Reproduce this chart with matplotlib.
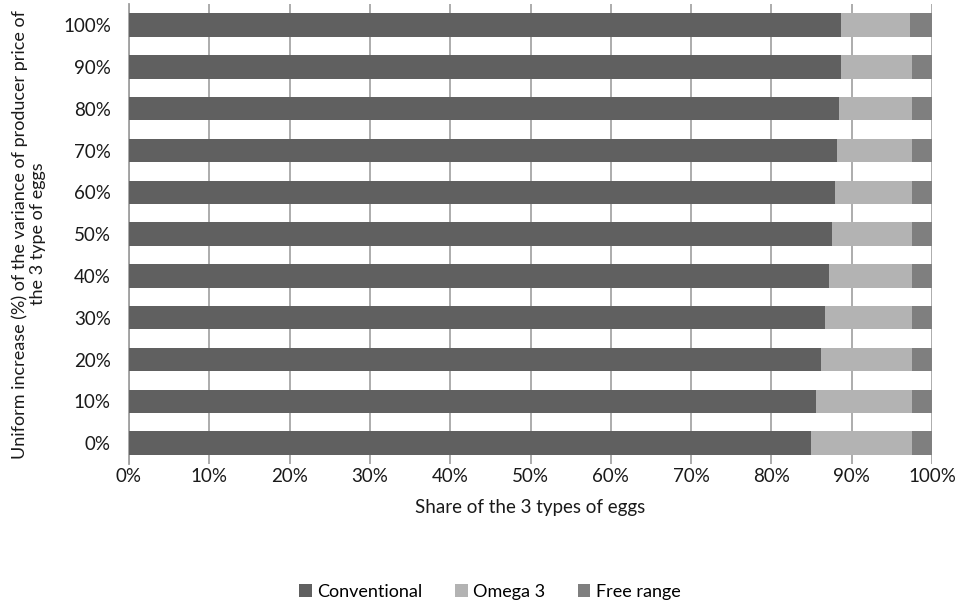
"""Share of the 3 types of eggs vs uniform increase of producer price variance."""

import matplotlib.pyplot as plt
import numpy as np

plt.rcParams["font.family"] = ["Lato", "DejaVu Sans"]

ROW_LABELS = ["0%", "10%", "20%", "30%", "40%", "50%",
              "60%", "70%", "80%", "90%", "100%"]
CONVENTIONAL = [84.9, 85.6, 86.2, 86.7, 87.2, 87.5, 87.9, 88.2, 88.4, 88.7, 88.7]
OMEGA_3 = [12.6, 11.9, 11.3, 10.8, 10.3, 10.0, 9.6, 9.3, 9.1, 8.8, 8.6]
FREE_RANGE = [2.5, 2.5, 2.5, 2.5, 2.5, 2.5, 2.5, 2.5, 2.5, 2.5, 2.7]

SERIES = [("Conventional", CONVENTIONAL, "#606060"),
          ("Omega 3", OMEGA_3, "#b3b3b3"),
          ("Free range", FREE_RANGE, "#7f7f7f")]


def main() -> None:
    fig = plt.figure(figsize=(9.55, 6.05), dpi=100)
    ax = fig.add_axes([0.135, 0.233, 0.841, 0.760])

    y = np.arange(len(ROW_LABELS))
    totals = np.array(CONVENTIONAL) + np.array(OMEGA_3) + np.array(FREE_RANGE)
    left = np.zeros(len(ROW_LABELS))
    for name, values, color in SERIES:
        share = np.array(values) / totals
        ax.barh(y, share, left=left, height=0.56, color=color, label=name,
                zorder=3)
        left += share

    ax.set_xlim(0, 1)
    ax.set_ylim(-0.5, len(ROW_LABELS) - 0.5)
    ax.set_xticks(np.linspace(0, 1, 11))
    ax.set_xticklabels([f"{int(round(v * 100))}%" for v in np.linspace(0, 1, 11)])
    ax.set_yticks(y)
    ax.set_yticklabels(ROW_LABELS)
    ax.tick_params(axis="both", length=0, labelsize=13.5, colors="#1a1a1a")
    ax.tick_params(axis="x", pad=3)
    ax.tick_params(axis="y", pad=13)

    ax.grid(axis="x", color="#a6a6a6", linewidth=1.3, zorder=0)
    for side in ("top", "right", "bottom"):
        ax.spines[side].set_visible(False)
    ax.spines["left"].set_color("#a0a0a0")
    ax.spines["left"].set_linewidth(1.3)

    ax.set_xlabel("Share of the 3 types of eggs", fontsize=13.5,
                  color="#1a1a1a", labelpad=10)
    ax.set_ylabel("Uniform increase (%) of the variance of producer price of\n"
                  "the 3 type of eggs", fontsize=13, color="#1a1a1a",
                  labelpad=12, linespacing=1.2)

    fig.legend(loc="center", bbox_to_anchor=(0.513, 1 - 592 / 605), ncol=3,
               frameon=False, fontsize=13, handlelength=0.7,
               handleheight=0.7, handletextpad=0.3, columnspacing=1.8)

    fig.savefig("out.png", dpi=100)
    plt.close(fig)


if __name__ == "__main__":
    main()
